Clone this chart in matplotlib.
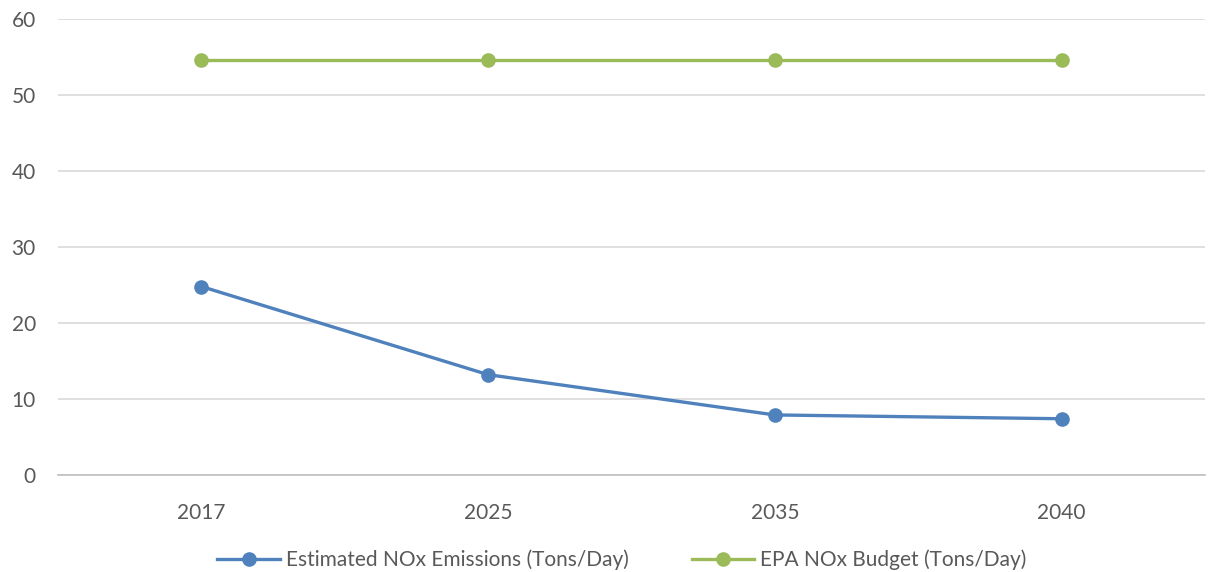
import matplotlib.pyplot as plt

years = ['2017', '2025', '2035', '2040']
emissions = [24.8, 13.2, 7.9, 7.4]
budget = [54.6, 54.6, 54.6, 54.6]

plt.rcParams['font.family'] = ['Lato', 'DejaVu Sans']

fig = plt.figure(figsize=(12.08, 5.72), dpi=100)
ax = fig.add_axes([0.048, 0.1696, 0.9495, 0.7972])

x = range(len(years))
ax.plot(x, emissions, color='#4f81bd', linewidth=2.4, marker='o', markersize=9.5,
        label='Estimated NOx Emissions (Tons/Day)', zorder=3)
ax.plot(x, budget, color='#9bbb59', linewidth=2.4, marker='o', markersize=9.5,
        label='EPA NOx Budget (Tons/Day)', zorder=3)

ax.set_xlim(-0.5, 3.5)
ax.set_ylim(0, 60)
ax.set_yticks(range(0, 61, 10))
ax.set_xticks(list(x))
ax.set_xticklabels(years)

ax.grid(axis='y', color='#d9d9d9', linewidth=1.2)
ax.set_axisbelow(True)
for s in ['top', 'right', 'left']:
    ax.spines[s].set_visible(False)
ax.spines['bottom'].set_color('#bfbfbf')
ax.spines['bottom'].set_linewidth(1.2)
ax.tick_params(length=0, labelsize=15, colors='#595959', pad=20)
ax.tick_params(axis='y', pad=16)

fig.legend(loc='lower center', ncol=2, frameon=False, fontsize=15,
           labelcolor='#595959', bbox_to_anchor=(0.515, -0.03),
           handlelength=3, columnspacing=3.0, handletextpad=0.3)

plt.savefig('out.png')
